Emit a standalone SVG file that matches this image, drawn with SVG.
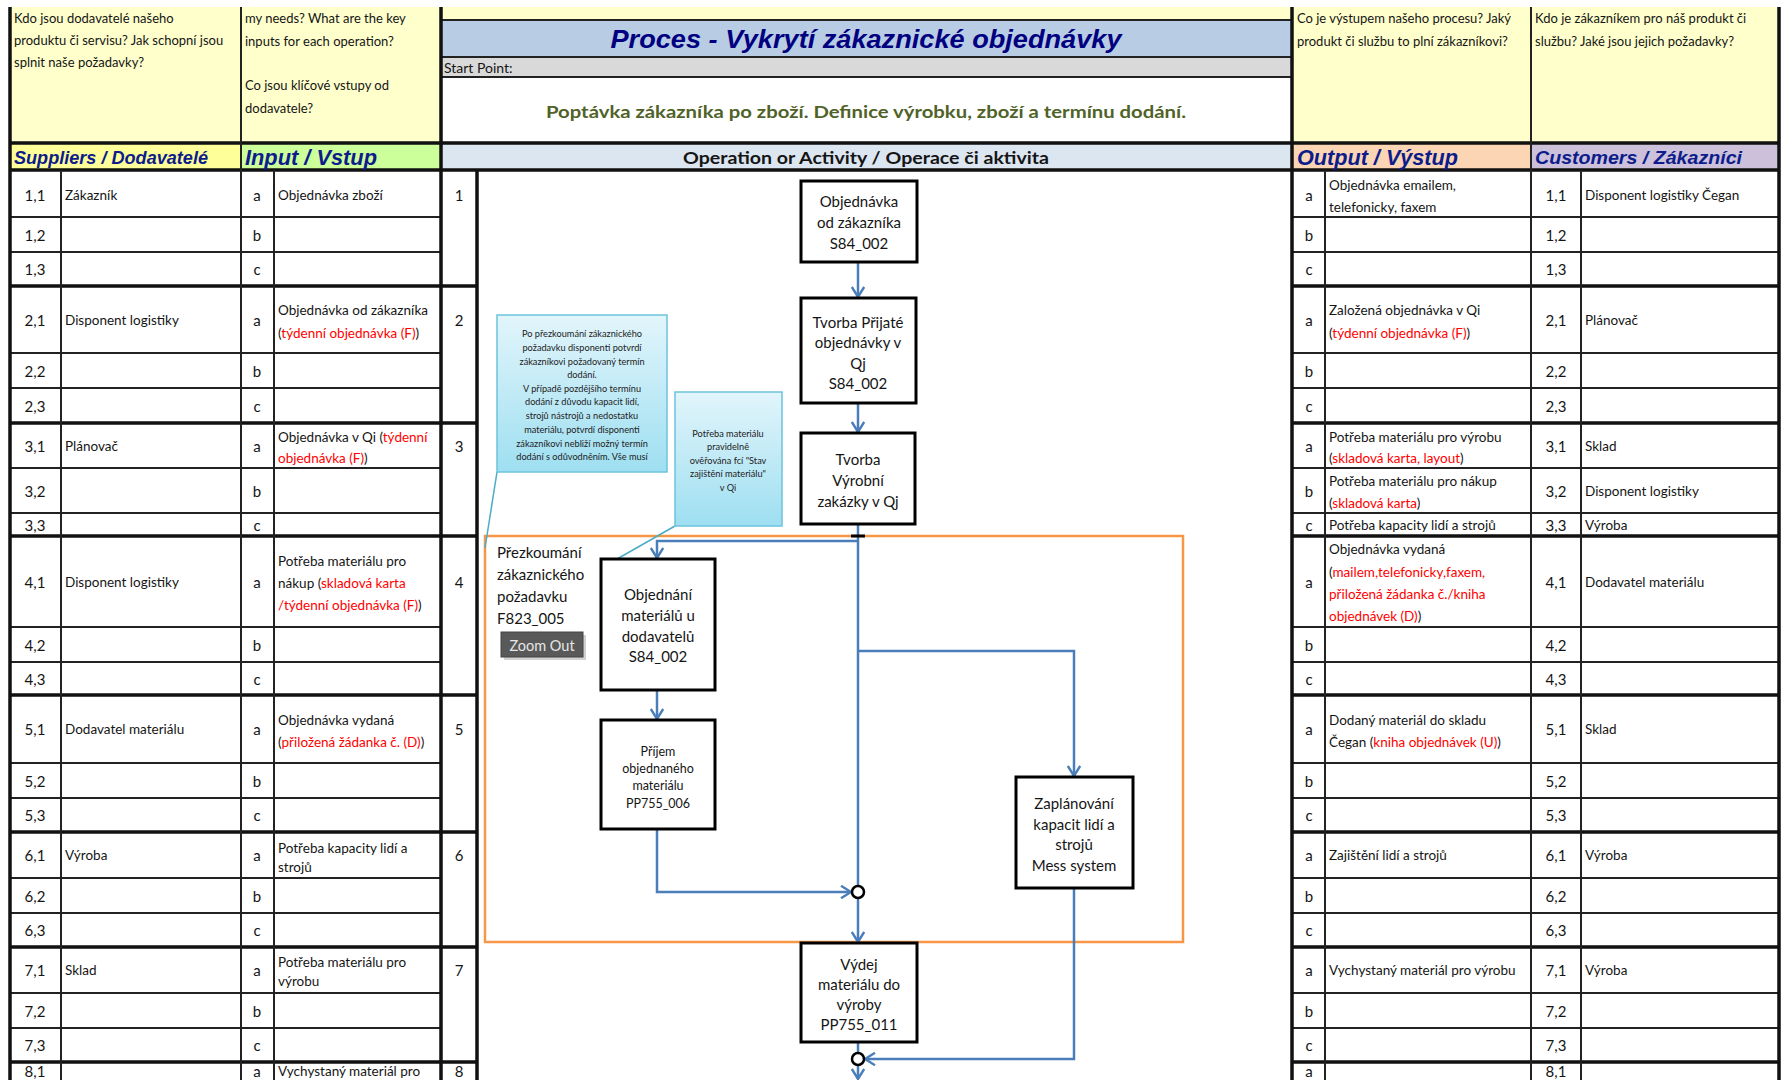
<svg xmlns="http://www.w3.org/2000/svg" width="1782" height="1080" viewBox="0 0 1782 1080">
<defs>
<style>
text{font-family:Lato,'Liberation Sans',sans-serif;dominant-baseline:central;fill:#151515}
.t{font-size:13.5px}
.ht{font-size:13px}
.n{font-size:15px;text-anchor:middle}
.r{fill:#ff0000}
.h{font-family:'Liberation Sans',Arial,sans-serif;font-weight:bold;font-style:italic;fill:#0c1c8a}
.thin{stroke:#222;stroke-width:2;fill:none}
.thick{stroke:#111;stroke-width:3.5;fill:none}
.box{fill:#fff;stroke:#000;stroke-width:3}
.bt{font-size:15px;text-anchor:middle}
.st{font-size:12.5px;text-anchor:middle}
.conn{fill:none;stroke:#4a7ebb;stroke-width:2.5}
.call{stroke:#6cc3dc;stroke-width:1.5;fill:url(#cg)}
.ct{font-size:9.2px;text-anchor:middle;fill:#222}
.ptr{stroke:#4bacc6;stroke-width:1.5;fill:none}
.dot{fill:#fff;stroke:#000;stroke-width:2.5}
</style>
<linearGradient id="cg" x1="0" y1="0" x2="0" y2="1">
<stop offset="0" stop-color="#e2f5fb"/>
<stop offset="1" stop-color="#9edff1"/>
</linearGradient>
<marker id="arr" viewBox="0 0 14 14" refX="13" refY="7" markerWidth="14" markerHeight="14" markerUnits="userSpaceOnUse" orient="auto">
<path d="M3,0.8 L13,7 L3,13.2" fill="none" stroke="#4a7ebb" stroke-width="2.4"/>
</marker>
</defs>

<rect width="1782" height="1080" fill="#fff"/>

<!-- header backgrounds -->
<g id="header-fills">
<rect x="10" y="7" width="431" height="136" fill="#ffffcc"/>
<rect x="1292" y="7" width="487" height="136" fill="#ffffcc"/>
<rect x="441" y="7" width="851" height="13" fill="#ffffcc"/>
<rect x="441" y="20" width="851" height="37" fill="#b8cce4"/>
<rect x="441" y="57" width="851" height="20" fill="#d9d9d9"/>
<rect x="10" y="143" width="231" height="27" fill="#ffff99"/>
<rect x="241" y="143" width="200" height="27" fill="#ccff99"/>
<rect x="441" y="143" width="851" height="27" fill="#dce6f1"/>
<rect x="1292" y="143" width="239" height="27" fill="#fcd5b4"/>
<rect x="1531" y="143" width="248" height="27" fill="#ccc0da"/>
</g>

<!-- grid lines -->
<g id="grid">
<path class="thin" d="M10,217H441M10,252H441M10,353H441M10,388H441M10,468H441M10,513H441M10,627H441M10,662H441M10,763H441M10,798H441M10,878H441M10,913H441M10,993H441M10,1028H441"/>
<path class="thin" d="M1292,217H1779M1292,252H1779M1292,353H1779M1292,388H1779M1292,468H1779M1292,513H1779M1292,627H1779M1292,662H1779M1292,763H1779M1292,798H1779M1292,878H1779M1292,913H1779M1292,993H1779M1292,1028H1779"/>
<path class="thick" d="M10,286H477M10,423H477M10,536H477M10,695H477M10,832H477M10,947H477M10,1062H477"/>
<path class="thick" d="M1292,286H1779M1292,423H1779M1292,536H1779M1292,695H1779M1292,832H1779M1292,947H1779M1292,1062H1779"/>
<path class="thick" d="M10,143H1779M10,170H1779"/>
<path class="thin" d="M441,20H1292M441,57H1292M441,77H1292"/>
<path class="thin" d="M61,170V1080M241,7V1080M274,170V1080M1325,170V1080M1531,7V1080M1581,170V1080"/>
<path class="thick" d="M10,7V1080M441,7V1080M477,170V1080M1292,7V1080M1779,7V1080"/>
</g>

<!-- header texts -->
<g id="header-text">
<text class="ht" x="14" y="18">Kdo jsou dodavatelé našeho</text>
<text class="ht" x="14" y="40">produktu či servisu? Jak schopní jsou</text>
<text class="ht" x="14" y="62">splnit naše požadavky?</text>
<text class="ht" x="245" y="18">my needs?  What are the key</text>
<text class="ht" x="245" y="41">inputs for each operation?</text>
<text class="ht" x="245" y="85">Co jsou klíčové vstupy od</text>
<text class="ht" x="245" y="108">dodavatele?</text>
<text class="ht" x="1297" y="18">Co je výstupem našeho procesu? Jaký</text>
<text class="ht" x="1297" y="41">produkt či službu to plní zákazníkovi?</text>
<text class="ht" x="1535" y="18">Kdo je zákazníkem pro náš produkt či</text>
<text class="ht" x="1535" y="41">službu? Jaké jsou jejich požadavky?</text>
<text class="h" x="866" y="39" font-size="26" text-anchor="middle" textLength="511" lengthAdjust="spacingAndGlyphs" style="fill:#000080">Proces - Vykrytí zákaznické objednávky</text>
<text x="444" y="67" font-size="14">Start Point:</text>
<text x="866" y="111" font-size="17.5" font-weight="bold" text-anchor="middle" textLength="640" lengthAdjust="spacingAndGlyphs" style="fill:#4f6228">Poptávka zákazníka po zboží. Definice výrobku, zboží a termínu dodání.</text>
<text class="h" x="14" y="157" font-size="19" textLength="194" lengthAdjust="spacingAndGlyphs">Suppliers / Dodavatelé</text>
<text class="h" x="245" y="157" font-size="22" textLength="132" lengthAdjust="spacingAndGlyphs">Input / Vstup</text>
<text x="866" y="157" font-size="17.5" font-weight="bold" text-anchor="middle" textLength="366" lengthAdjust="spacingAndGlyphs">Operation or Activity / Operace či aktivita</text>
<text class="h" x="1297" y="157" font-size="22" textLength="161" lengthAdjust="spacingAndGlyphs">Output / Výstup</text>
<text class="h" x="1535" y="157" font-size="19" textLength="207" lengthAdjust="spacingAndGlyphs">Customers / Zákazníci</text>
</g>

<!-- suppliers and inputs -->
<g id="left-table">
<text class="n" x="35" y="195">1,1</text><text class="t" x="65" y="195">Zákazník</text><text class="n" x="257" y="195">a</text><text class="t" x="278" y="195">Objednávka zboží</text><text class="n" x="459" y="195">1</text>
<text class="n" x="35" y="235">1,2</text><text class="n" x="257" y="235">b</text>
<text class="n" x="35" y="269">1,3</text><text class="n" x="257" y="269">c</text>

<text class="n" x="35" y="320">2,1</text><text class="t" x="65" y="320">Disponent logistiky</text><text class="n" x="257" y="320">a</text><text class="n" x="459" y="320">2</text>
<text class="t" x="278" y="310">Objednávka od zákazníka</text>
<text class="t" x="278" y="333">(<tspan class="r">týdenní objednávka (F)</tspan>)</text>
<text class="n" x="35" y="371">2,2</text><text class="n" x="257" y="371">b</text>
<text class="n" x="35" y="406">2,3</text><text class="n" x="257" y="406">c</text>

<text class="n" x="35" y="446">3,1</text><text class="t" x="65" y="446">Plánovač</text><text class="n" x="257" y="446">a</text><text class="n" x="459" y="446">3</text>
<text class="t" x="278" y="437">Objednávka v Qi  (<tspan class="r">týdenní</tspan></text>
<text class="t" x="278" y="458"><tspan class="r">objednávka (F)</tspan>)</text>
<text class="n" x="35" y="491">3,2</text><text class="n" x="257" y="491">b</text>
<text class="n" x="35" y="525">3,3</text><text class="n" x="257" y="525">c</text>

<text class="n" x="35" y="582">4,1</text><text class="t" x="65" y="582">Disponent logistiky</text><text class="n" x="257" y="582">a</text><text class="n" x="459" y="582">4</text>
<text class="t" x="278" y="561">Potřeba materiálu pro</text>
<text class="t" x="278" y="583">nákup (<tspan class="r">skladová karta</tspan></text>
<text class="t" x="278" y="605"><tspan class="r">/týdenní objednávka (F)</tspan>)</text>
<text class="n" x="35" y="645">4,2</text><text class="n" x="257" y="645">b</text>
<text class="n" x="35" y="679">4,3</text><text class="n" x="257" y="679">c</text>

<text class="n" x="35" y="729">5,1</text><text class="t" x="65" y="729">Dodavatel materiálu</text><text class="n" x="257" y="729">a</text><text class="n" x="459" y="729">5</text>
<text class="t" x="278" y="720">Objednávka vydaná</text>
<text class="t" x="278" y="742">(<tspan class="r">přiložená žádanka č.  (D)</tspan>)</text>
<text class="n" x="35" y="781">5,2</text><text class="n" x="257" y="781">b</text>
<text class="n" x="35" y="815">5,3</text><text class="n" x="257" y="815">c</text>

<text class="n" x="35" y="855">6,1</text><text class="t" x="65" y="855">Výroba</text><text class="n" x="257" y="855">a</text><text class="n" x="459" y="855">6</text>
<text class="t" x="278" y="848">Potřeba kapacity lidí a</text>
<text class="t" x="278" y="867">strojů</text>
<text class="n" x="35" y="896">6,2</text><text class="n" x="257" y="896">b</text>
<text class="n" x="35" y="930">6,3</text><text class="n" x="257" y="930">c</text>

<text class="n" x="35" y="970">7,1</text><text class="t" x="65" y="970">Sklad</text><text class="n" x="257" y="970">a</text><text class="n" x="459" y="970">7</text>
<text class="t" x="278" y="962">Potřeba materiálu pro</text>
<text class="t" x="278" y="981">výrobu</text>
<text class="n" x="35" y="1011">7,2</text><text class="n" x="257" y="1011">b</text>
<text class="n" x="35" y="1045">7,3</text><text class="n" x="257" y="1045">c</text>

<text class="n" x="35" y="1071">8,1</text><text class="n" x="257" y="1071">a</text><text class="n" x="459" y="1071">8</text>
<text class="t" x="278" y="1071">Vychystaný materiál pro</text>
</g>

<!-- outputs and customers -->
<g id="right-table">
<text class="n" x="1309" y="195">a</text><text class="n" x="1556" y="195">1,1</text><text class="t" x="1585" y="195">Disponent logistiky Čegan</text>
<text class="t" x="1329" y="185">Objednávka emailem,</text>
<text class="t" x="1329" y="207">telefonicky, faxem</text>
<text class="n" x="1309" y="235">b</text><text class="n" x="1556" y="235">1,2</text>
<text class="n" x="1309" y="269">c</text><text class="n" x="1556" y="269">1,3</text>

<text class="n" x="1309" y="320">a</text><text class="n" x="1556" y="320">2,1</text><text class="t" x="1585" y="320">Plánovač</text>
<text class="t" x="1329" y="310">Založená objednávka v Qi</text>
<text class="t" x="1329" y="333">(<tspan class="r">týdenní objednávka (F)</tspan>)</text>
<text class="n" x="1309" y="371">b</text><text class="n" x="1556" y="371">2,2</text>
<text class="n" x="1309" y="406">c</text><text class="n" x="1556" y="406">2,3</text>

<text class="n" x="1309" y="446">a</text><text class="n" x="1556" y="446">3,1</text><text class="t" x="1585" y="446">Sklad</text>
<text class="t" x="1329" y="437">Potřeba materiálu pro výrobu</text>
<text class="t" x="1329" y="458">(<tspan class="r">skladová karta, layout</tspan>)</text>
<text class="n" x="1309" y="491">b</text><text class="n" x="1556" y="491">3,2</text><text class="t" x="1585" y="491">Disponent logistiky</text>
<text class="t" x="1329" y="481">Potřeba materiálu pro nákup</text>
<text class="t" x="1329" y="503">(<tspan class="r">skladová karta</tspan>)</text>
<text class="n" x="1309" y="525">c</text><text class="n" x="1556" y="525">3,3</text><text class="t" x="1585" y="525">Výroba</text>
<text class="t" x="1329" y="525">Potřeba kapacity lidí a strojů</text>

<text class="n" x="1309" y="582">a</text><text class="n" x="1556" y="582">4,1</text><text class="t" x="1585" y="582">Dodavatel materiálu</text>
<text class="t" x="1329" y="549">Objednávka vydaná</text>
<text class="t" x="1329" y="572">(<tspan class="r">mailem,telefonicky,faxem,</tspan></text>
<text class="t r" x="1329" y="594">přiložená žádanka č./kniha</text>
<text class="t" x="1329" y="616"><tspan class="r">objednávek (D)</tspan>)</text>
<text class="n" x="1309" y="645">b</text><text class="n" x="1556" y="645">4,2</text>
<text class="n" x="1309" y="679">c</text><text class="n" x="1556" y="679">4,3</text>

<text class="n" x="1309" y="729">a</text><text class="n" x="1556" y="729">5,1</text><text class="t" x="1585" y="729">Sklad</text>
<text class="t" x="1329" y="720">Dodaný materiál do skladu</text>
<text class="t" x="1329" y="742">Čegan  (<tspan class="r">kniha objednávek (U)</tspan>)</text>
<text class="n" x="1309" y="781">b</text><text class="n" x="1556" y="781">5,2</text>
<text class="n" x="1309" y="815">c</text><text class="n" x="1556" y="815">5,3</text>

<text class="n" x="1309" y="855">a</text><text class="n" x="1556" y="855">6,1</text><text class="t" x="1585" y="855">Výroba</text>
<text class="t" x="1329" y="855">Zajištění lidí a strojů</text>
<text class="n" x="1309" y="896">b</text><text class="n" x="1556" y="896">6,2</text>
<text class="n" x="1309" y="930">c</text><text class="n" x="1556" y="930">6,3</text>

<text class="n" x="1309" y="970">a</text><text class="n" x="1556" y="970">7,1</text><text class="t" x="1585" y="970">Výroba</text>
<text class="t" x="1329" y="970">Vychystaný materiál pro výrobu</text>
<text class="n" x="1309" y="1011">b</text><text class="n" x="1556" y="1011">7,2</text>
<text class="n" x="1309" y="1045">c</text><text class="n" x="1556" y="1045">7,3</text>

<text class="n" x="1309" y="1071">a</text><text class="n" x="1556" y="1071">8,1</text>
</g>

<!-- review frame -->
<g id="review-frame">
<rect x="485" y="536" width="698" height="406" fill="none" stroke="#f79646" stroke-width="2.5"/>
<text x="497" y="552" font-size="15">Přezkoumání</text>
<text x="497" y="574" font-size="15">zákaznického</text>
<text x="497" y="596" font-size="15">požadavku</text>
<text x="497" y="618" font-size="15">F823_005</text>
</g>

<g id="zoom-out">
<rect x="504" y="635" width="82" height="25" fill="#000" opacity="0.18"/>
<rect x="501" y="632" width="82" height="25" fill="#595959" stroke="#444" stroke-width="1"/>
<text x="542" y="645" font-size="14.5" text-anchor="middle" style="fill:#e6e6e6">Zoom Out</text>
</g>

<!-- connectors -->
<g id="connectors">
<path class="conn" d="M858,262V297" marker-end="url(#arr)"/>
<path class="conn" d="M858,403V432" marker-end="url(#arr)"/>
<path class="conn" d="M858,524V886"/>
<path class="conn" d="M858,541H657V558" marker-end="url(#arr)"/>
<path class="conn" d="M657,690V719" marker-end="url(#arr)"/>
<path class="conn" d="M657,829V892H851" marker-end="url(#arr)"/>
<path class="conn" d="M858,651H1074V776" marker-end="url(#arr)"/>
<path class="conn" d="M858,898V942" marker-end="url(#arr)"/>
<path class="conn" d="M1074,888V1059H865" marker-end="url(#arr)"/>
<path class="conn" d="M858,1042V1053"/>
<path class="conn" d="M858,1065V1079" marker-end="url(#arr)"/>
<path d="M851,536H865" stroke="#000" stroke-width="3"/>
<path class="ptr" d="M497,472L485,548"/>
<path class="ptr" d="M675,526L603,567"/>
</g>

<g id="join-1"><circle class="dot" cx="858" cy="892" r="6"/></g>
<g id="join-2"><circle class="dot" cx="858" cy="1059" r="6"/></g>

<!-- process steps -->
<g id="step-order">
<rect class="box" x="801" y="181" width="116" height="81"/>
<text class="bt" x="859" y="201">Objednávka</text>
<text class="bt" x="859" y="222">od zákazníka</text>
<text class="bt" x="859" y="243">S84_002</text>
</g>
<g id="step-accepted">
<rect class="box" x="801" y="298" width="115" height="105"/>
<text class="bt" x="858" y="322">Tvorba Přijaté</text>
<text class="bt" x="858" y="342">objednávky v</text>
<text class="bt" x="858" y="363">Qj</text>
<text class="bt" x="858" y="383">S84_002</text>
</g>
<g id="step-production-order">
<rect class="box" x="801" y="433" width="114" height="91"/>
<text class="bt" x="858" y="459">Tvorba</text>
<text class="bt" x="858" y="480">Výrobní</text>
<text class="bt" x="858" y="501">zakázky v Qj</text>
</g>
<g id="step-material-order">
<rect class="box" x="601" y="559" width="114" height="131"/>
<text class="bt" x="658" y="594">Objednání</text>
<text class="bt" x="658" y="615">materiálů u</text>
<text class="bt" x="658" y="636">dodavatelů</text>
<text class="bt" x="658" y="656">S84_002</text>
</g>
<g id="step-receipt">
<rect class="box" x="601" y="720" width="114" height="109"/>
<text class="st" x="658" y="751">Příjem</text>
<text class="st" x="658" y="768">objednaného</text>
<text class="st" x="658" y="785">materiálu</text>
<text class="st" x="658" y="803">PP755_006</text>
</g>
<g id="step-capacity">
<rect class="box" x="1016" y="777" width="117" height="111"/>
<text class="bt" x="1074" y="803">Zaplánování</text>
<text class="bt" x="1074" y="824">kapacit lidí a</text>
<text class="bt" x="1074" y="844">strojů</text>
<text class="bt" x="1074" y="865">Mess system</text>
</g>
<g id="step-issue">
<rect class="box" x="801" y="943" width="116" height="99"/>
<text class="bt" x="859" y="964">Výdej</text>
<text class="bt" x="859" y="984">materiálu do</text>
<text class="bt" x="859" y="1004">výroby</text>
<text class="bt" x="859" y="1024">PP755_011</text>
</g>

<!-- callout notes -->
<g id="note-review">
<rect class="call" x="497" y="315" width="170" height="157"/>
<text class="ct" x="582" y="333">Po přezkoumání zákaznického</text>
<text class="ct" x="582" y="347">požadavku disponenti potvrdí</text>
<text class="ct" x="582" y="361">zákazníkovi požadovaný termín</text>
<text class="ct" x="582" y="374">dodání.</text>
<text class="ct" x="582" y="388">V případě pozdějšího termínu</text>
<text class="ct" x="582" y="401">dodání z důvodu kapacit lidí,</text>
<text class="ct" x="582" y="415">strojů nástrojů a nedostatku</text>
<text class="ct" x="582" y="429">materiálu, potvrdí disponenti</text>
<text class="ct" x="582" y="443">zákazníkovi nebliží možný termín</text>
<text class="ct" x="582" y="456">dodání s odůvodněním. Vše musí</text>
</g>
<g id="note-material">
<rect class="call" x="675" y="392" width="107" height="134"/>
<text class="ct" x="728" y="433">Potřeba materiálu</text>
<text class="ct" x="728" y="446">pravidelně</text>
<text class="ct" x="728" y="460">ověřována fcí "Stav</text>
<text class="ct" x="728" y="473">zajištění materiálu"</text>
<text class="ct" x="728" y="487">v Qi</text>
</g>
</svg>
